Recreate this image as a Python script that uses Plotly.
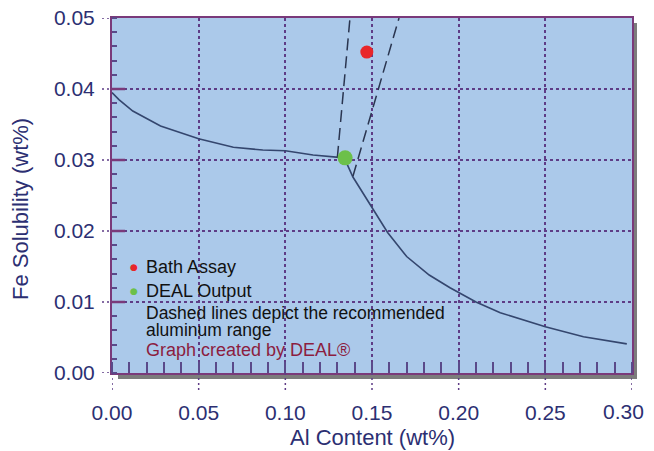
import plotly.graph_objects as go

# ---- data ----
curve_x = [0.000, 0.004, 0.012, 0.028, 0.050, 0.070, 0.087, 0.100, 0.116, 0.130, 0.134,
           0.139, 0.150, 0.159, 0.170, 0.183, 0.195, 0.210, 0.224, 0.250, 0.272, 0.297]
curve_y = [0.0395, 0.0385, 0.0369, 0.0348, 0.0330, 0.0318, 0.0314, 0.0313, 0.0307, 0.0304, 0.0303,
           0.0276, 0.0233, 0.0198, 0.0164, 0.0138, 0.0120, 0.0100, 0.0085, 0.0065, 0.0051, 0.0041]

lower_dash_x = [0.130, 0.1373]
lower_dash_y = [0.0303, 0.0500]
upper_dash_x = [0.139, 0.1656]
upper_dash_y = [0.0277, 0.0500]

bath_x = [0.147]
bath_y = [0.0452]
deal_x = [0.1345]
deal_y = [0.0303]

x_ticks = [0.00, 0.05, 0.10, 0.15, 0.20, 0.25, 0.30]
x_labels = ["0.00", "0.05", "0.10", "0.15", "0.20", "0.25", "0.30"]
y_ticks = [0.00, 0.01, 0.02, 0.03, 0.04, 0.05]
y_labels = ["0.00", "0.01", "0.02", "0.03", "0.04", "0.05"]

x_title = "Al Content (wt%)"
y_title = "Fe Solubility (wt%)"
legend_items = ["Bath Assay", "DEAL Output"]
legend_colors = ["#e8262a", "#6cc04a"]
note_lines = ["Dashed lines depict the recommended", "aluminum range"]
credit = "Graph created by DEAL®"

# ---- styles ----
# the page body adds an 8px margin; the figure is offset so the plot lands where the reference has it
OFF = 8
W, H = 654 - OFF, 451 - OFF
L, T = 112 - OFF, 18 - OFF
R = W - (632 - OFF)
B = H - (373 - OFF)
PW, PH = W - L - R, H - T - B
FRAME = "#7a3a7a"
GRID = "#5e3c86"
NAVY = "#2c2f72"
CURVE = "#34466e"
FONT = "Liberation Sans"
TICKFONT = dict(family=FONT, size=21, color=NAVY)

def py2paper(page_y):
    return (H - B - (page_y - OFF)) / PH

def px2paper(page_x):
    return (page_x - OFF - L) / PW

fig = go.Figure()

fig.add_trace(go.Scatter(x=curve_x, y=curve_y, mode="lines",
                         line=dict(color=CURVE, width=1.6), showlegend=False, hoverinfo="skip"))
for dx, dy in [(lower_dash_x, lower_dash_y), (upper_dash_x, upper_dash_y)]:
    fig.add_trace(go.Scatter(x=dx, y=dy, mode="lines",
                             line=dict(color="#2a3550", width=1.5, dash="12px,6px"),
                             showlegend=False, hoverinfo="skip"))
fig.add_trace(go.Scatter(x=deal_x, y=deal_y, mode="markers",
                         marker=dict(color=legend_colors[1], size=15), showlegend=False))
fig.add_trace(go.Scatter(x=bath_x, y=bath_y, mode="markers",
                         marker=dict(color=legend_colors[0], size=13), showlegend=False))

shapes = []
# drop shadow (right and bottom)
shapes.append(dict(type="rect", xref="paper", yref="paper", x0=6 / PW, x1=1 + 5 / PW,
                   y0=-6 / PH, y1=0, fillcolor="#7c7c7c", line=dict(width=0), layer="below"))
shapes.append(dict(type="rect", xref="paper", yref="paper", x0=1, x1=1 + 5 / PW,
                   y0=-6 / PH, y1=1 - 5 / PH, fillcolor="#7c7c7c", line=dict(width=0), layer="below"))
# dotted outside ticks
for xv in x_ticks:
    shapes.append(dict(type="line", xref="x", yref="paper", x0=xv, x1=xv, y0=0, y1=-19 / PH,
                       line=dict(color=GRID, width=1.5, dash="2px,3px")))
for yv in y_ticks:
    shapes.append(dict(type="line", xref="paper", yref="y", x0=-10 / PW, x1=0, y0=yv, y1=yv,
                       line=dict(color=GRID, width=1.5, dash="2px,3px")))
    if 0 < yv < 0.05:
        shapes.append(dict(type="line", xref="paper", yref="y", x0=0, x1=13 / PW, y0=yv, y1=yv,
                           line=dict(color=FRAME, width=2.5)))

annotations = []
leg_y = [267, 291]
for name, col, py in zip(legend_items, legend_colors, leg_y):
    yy = py2paper(py)
    annotations.append(dict(xref="paper", yref="paper", x=px2paper(134), y=yy, text="●",
                            showarrow=False, xanchor="center", yanchor="middle",
                            font=dict(color=col, size=9, family="DejaVu Sans")))
    annotations.append(dict(xref="paper", yref="paper", x=px2paper(144), y=yy, text=name,
                            showarrow=False, xanchor="left", yanchor="middle",
                            font=dict(color="#111111", size=18, family=FONT)))
for line, py in zip(note_lines, [313, 330]):
    annotations.append(dict(xref="paper", yref="paper", x=px2paper(144), y=py2paper(py),
                            text=line, showarrow=False, xanchor="left", yanchor="middle",
                            font=dict(color="#111111", size=17.5, family=FONT)))
annotations.append(dict(xref="paper", yref="paper", x=px2paper(144), y=py2paper(350),
                        text=credit, showarrow=False, xanchor="left", yanchor="middle",
                        font=dict(color="#8c1d40", size=18, family=FONT)))
# last x tick label, kept inside the visible page width
annotations.append(dict(xref="x", yref="paper", x=x_ticks[-1], y=py2paper(411),
                        text=x_labels[-1], showarrow=False, xanchor="right", yanchor="middle",
                        xshift=14, font=TICKFONT))
# axis titles as annotations (placed exactly where the reference has them)
annotations.append(dict(xref="paper", yref="paper", x=px2paper(21), y=py2paper(209),
                        text=y_title, textangle=-90, showarrow=False,
                        xanchor="center", yanchor="middle",
                        font=dict(family=FONT, size=22, color=NAVY)))
annotations.append(dict(xref="paper", yref="paper", x=px2paper(372), y=py2paper(437),
                        text=x_title, showarrow=False,
                        xanchor="center", yanchor="middle",
                        font=dict(family=FONT, size=22, color=NAVY)))

axis_common = dict(showline=True, mirror=True, linecolor=FRAME, linewidth=2,
                   showgrid=True, gridcolor=GRID, gridwidth=1.5, griddash="3px,3px",
                   zeroline=False, ticks="outside", tickcolor="rgba(0,0,0,0)",
                   automargin=False, ticklabeloverflow="allow",
                   tickfont=TICKFONT)

fig.update_layout(
    width=W, height=H,
    margin=dict(l=L, r=R, t=T, b=B, pad=0),
    paper_bgcolor="white",
    plot_bgcolor="#abc9ea",
    showlegend=False,
    shapes=shapes,
    annotations=annotations,
    xaxis=dict(range=[0, 0.30], tickvals=x_ticks[:-1], ticktext=x_labels[:-1], ticklen=20,
               minor=dict(dtick=0.01, tick0=0, ticks="inside", ticklen=11, tickwidth=2,
                          tickcolor="#5a4a8a", showgrid=False),
               **axis_common),
    yaxis=dict(range=[0, 0.05], tickvals=y_ticks, ticktext=y_labels, ticklen=11,
               minor=dict(dtick=0.002, tick0=0, ticks="inside", ticklen=5, tickwidth=2,
                          tickcolor="#5a4a8a", showgrid=False),
               **axis_common),
)

fig.write_html("out.html")
